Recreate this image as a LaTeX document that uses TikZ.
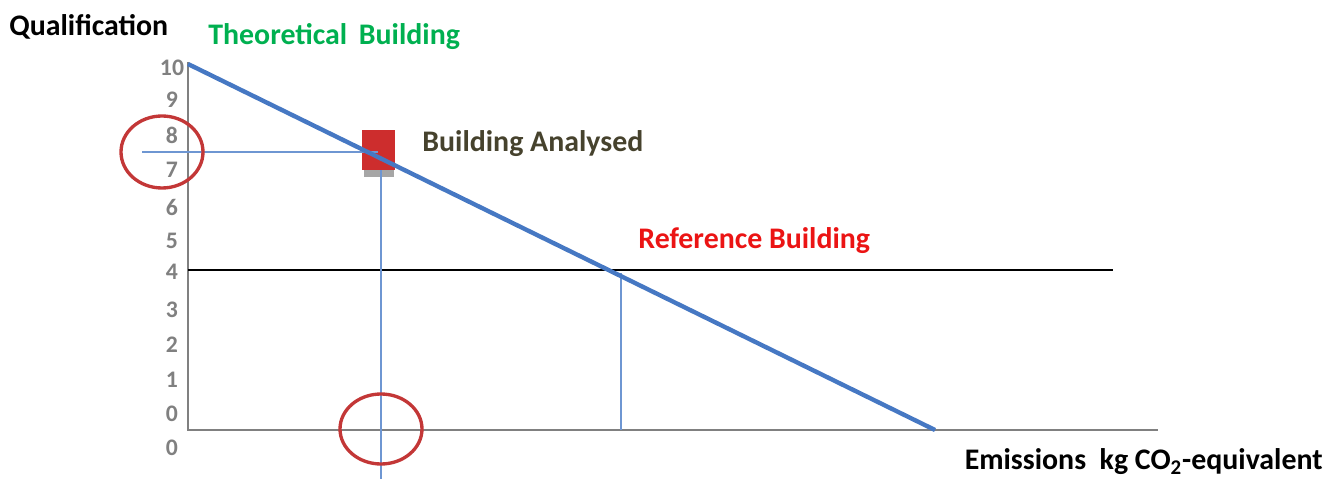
\documentclass[tikz,border=0pt]{standalone}
\usepackage{fontspec}
\setmainfont{Carlito}
\usetikzlibrary{positioning}
\definecolor{axisgray}{RGB}{128,128,128}
\definecolor{lineblue}{RGB}{70,120,195}
\definecolor{thinblue}{RGB}{110,150,210}
\definecolor{markred}{RGB}{195,55,55}
\definecolor{boxred}{RGB}{205,45,45}
\definecolor{txtgreen}{RGB}{0,176,80}
\definecolor{txtred}{RGB}{235,20,20}
\definecolor{txtolive}{RGB}{70,66,45}
\tikzstyle{axis}   = [draw=axisgray, line width=1.7pt]
\tikzstyle{guide}  = [draw=thinblue, line width=1.1pt]
\tikzstyle{ring}   = [draw=markred, line width=1.9pt]
\tikzstyle{tick}   = [text=axisgray, font=\bfseries\fontsize{13.5}{15}\selectfont, anchor=center, inner sep=0pt]
\tikzstyle{label}  = [font=\bfseries\fontsize{17}{19}\selectfont, inner sep=0pt]

\begin{document}
\begin{tikzpicture}[x=0.02cm, y=-0.02cm]
    \useasboundingbox (0,0) rectangle (1327,479);
    \coordinate (O) at (188,430);   % origin of the axes
    \coordinate (ytop) at (188,62);
    \coordinate (xend) at (1158,430);
    \coordinate (theo) at (188,64); % theoretical building
    \coordinate (zero) at (935,430);
    \coordinate (ref) at (621,273); % reference building
    \coordinate (ana) at (378,152); % building analysed
    % axes
    \draw[axis] (ytop) -- (O) -- (xend);
    \foreach \y/\lab in {68/10,100/9,135/8,170/7,207/6,241/5,272/4,310/3,345/2,380/1,414/0,448/0} {
      \node[tick] at (172,\y) {\lab};
    }
    % reference level
    \draw[black, line width=1.2pt] (188,270) -- (1113,270);
    \draw[guide] (ref) -- (ref |- O);
    % analysed building marker
    \fill[axisgray!70] (364,160) rectangle (394,177);
    \fill[boxred] (362,130) rectangle (395,170);
    \draw[guide] (142,152) -- (ana);
    \draw[guide] (381,170) -- (381,479);
    % emission line
    \draw[lineblue, line width=2.5pt] (theo) -- (zero);
    % circles
    \draw[ring] (162,152) ellipse (41 and 36);
    \draw[ring] (381,429) ellipse (41 and 35);
    % texts
    \node[label, anchor=west] (qual) at (9,27) {Qualification};
    \node[label, anchor=west, text=txtgreen] (theotxt) at (208,37) {Theoretical\, Building};
    \node[label, anchor=west, text=txtolive] (anatxt) at (422,144) {Building Analysed};
    \node[label, anchor=west, text=txtred] (reftxt) at (638,241) {Reference Building};
    \node[label, anchor=east] (emis) at (1323,462) {Emissions\ \ kg CO\textsubscript{2}-equivalent};
\end{tikzpicture}
\end{document}
